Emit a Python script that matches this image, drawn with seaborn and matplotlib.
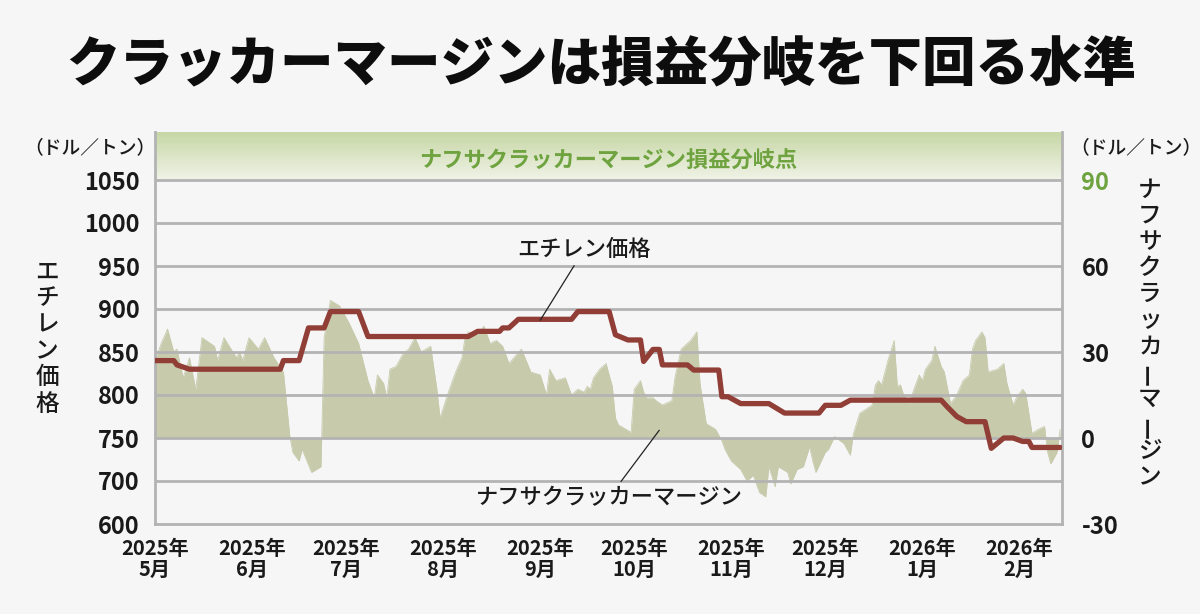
import numpy as np
import pandas as pd
import matplotlib
matplotlib.use("Agg")
import matplotlib.pyplot as plt
import matplotlib.dates as mdates
from matplotlib.colors import LinearSegmentedColormap
import seaborn as sns

# Precio de etileno (dolares/tonelada), vertices de la linea escalonada
etileno_fechas = [
    "2025-05-01", "2025-05-07", "2025-05-08", "2025-05-12", "2025-06-10", "2025-06-11",
    "2025-06-16", "2025-06-19", "2025-06-24", "2025-06-26", "2025-07-05", "2025-07-08",
    "2025-08-09", "2025-08-12", "2025-08-19", "2025-08-20", "2025-08-22", "2025-08-25",
    "2025-09-11", "2025-09-13", "2025-09-23", "2025-09-25", "2025-09-29", "2025-10-03",
    "2025-10-04", "2025-10-07", "2025-10-09", "2025-10-10", "2025-10-18", "2025-10-20",
    "2025-10-28", "2025-10-29", "2025-10-31", "2025-11-04", "2025-11-13", "2025-11-18",
    "2025-11-29", "2025-12-01", "2025-12-06", "2025-12-09", "2026-01-07", "2026-01-09",
    "2026-01-12", "2026-01-15", "2026-01-21", "2026-01-23", "2026-01-27", "2026-01-30",
    "2026-02-02", "2026-02-04", "2026-02-05", "2026-02-14",
]
etileno_precio = [
    840, 840, 835, 830, 830, 840,
    840, 878, 878, 897, 897, 868,
    868, 874, 874, 878, 878, 888,
    888, 897, 897, 870, 864, 864,
    839, 853, 853, 835, 835, 829,
    829, 798, 798, 790, 790, 779,
    779, 788, 788, 794, 794, 786,
    775, 769, 769, 738, 750, 750,
    746, 746, 739, 739,
]

# Margen de craqueo de nafta (dolares/tonelada)
margen_fechas = [
    "2025-05-01", "2025-05-03", "2025-05-05", "2025-05-07", "2025-05-08", "2025-05-10",
    "2025-05-12", "2025-05-14", "2025-05-16", "2025-05-20", "2025-05-21", "2025-05-23",
    "2025-05-27", "2025-05-28", "2025-05-29", "2025-05-31", "2025-06-03", "2025-06-05",
    "2025-06-08", "2025-06-11", "2025-06-13", "2025-06-14", "2025-06-16", "2025-06-17",
    "2025-06-20", "2025-06-23", "2025-06-24", "2025-06-26", "2025-06-29", "2025-07-02",
    "2025-07-05", "2025-07-08", "2025-07-10", "2025-07-11", "2025-07-13", "2025-07-14",
    "2025-07-15", "2025-07-17", "2025-07-19", "2025-07-21", "2025-07-23", "2025-07-25",
    "2025-07-28", "2025-07-30", "2025-07-31", "2025-08-03", "2025-08-05", "2025-08-07",
    "2025-08-08", "2025-08-09", "2025-08-12", "2025-08-14", "2025-08-16", "2025-08-18",
    "2025-08-20", "2025-08-22", "2025-08-26", "2025-08-29", "2025-09-01", "2025-09-03",
    "2025-09-04", "2025-09-06", "2025-09-09", "2025-09-11", "2025-09-13", "2025-09-15",
    "2025-09-16", "2025-09-17", "2025-09-18", "2025-09-20", "2025-09-22", "2025-09-24",
    "2025-09-25", "2025-09-26", "2025-09-30", "2025-10-01", "2025-10-03", "2025-10-04",
    "2025-10-05", "2025-10-07", "2025-10-08", "2025-10-10", "2025-10-13", "2025-10-14",
    "2025-10-16", "2025-10-19", "2025-10-21", "2025-10-22", "2025-10-24", "2025-10-27",
    "2025-10-29", "2025-10-30", "2025-11-01", "2025-11-04", "2025-11-06", "2025-11-08",
    "2025-11-10", "2025-11-12", "2025-11-13", "2025-11-15", "2025-11-16", "2025-11-19",
    "2025-11-20", "2025-11-22", "2025-11-24", "2025-11-26", "2025-11-27", "2025-11-28",
    "2025-12-01", "2025-12-02", "2025-12-04", "2025-12-07", "2025-12-09", "2025-12-10",
    "2025-12-12", "2025-12-16", "2025-12-17", "2025-12-18", "2025-12-19", "2025-12-21",
    "2025-12-23", "2025-12-24", "2025-12-25", "2025-12-26", "2025-12-28", "2025-12-29",
    "2025-12-31", "2026-01-01", "2026-01-02", "2026-01-04", "2026-01-05", "2026-01-07",
    "2026-01-08", "2026-01-10", "2026-01-12", "2026-01-14", "2026-01-16", "2026-01-17",
    "2026-01-18", "2026-01-20", "2026-01-21", "2026-01-22", "2026-01-25", "2026-01-27",
    "2026-01-28", "2026-01-30", "2026-01-31", "2026-02-02", "2026-02-03", "2026-02-05",
    "2026-02-07", "2026-02-09", "2026-02-10", "2026-02-11", "2026-02-13", "2026-02-14",
]
margen_valor = [
    27, 33, 38, 30, 31, 21,
    28, 17, 35, 32, 27, 35,
    28, 30, 27, 35, 31, 35,
    28, 23, 1, -5, -8, -4,
    -12, -10, 35, 48, 46, 40,
    33, 20, 14, 22, 19, 14,
    24, 25, 29, 31, 35, 30,
    32, 17, 7, 17, 23, 28,
    35, 37, 36, 39, 33, 34,
    32, 26, 31, 23, 22, 15,
    24, 20, 21, 15, 17, 16,
    18, 17, 21, 24, 26, 18,
    7, 4.5, 2, 17, 20, 16,
    14, 14, 13, 11.5, 13, 21,
    31, 34, 37, 19, 5, 3,
    -1, -4, -8, -11, -15, -13,
    -19, -20.5, -10, -17, -10, -12,
    -16, -11, -10, -3, -8, -12,
    -5, -4, 0.5, -2, -6, 1.6,
    8.6, 11.5, 18.5, 20, 18.5, 27,
    34, 18, 18.5, 15, 12, 16,
    22, 20, 24, 27, 32, 25,
    23, 12, 15, 20, 22, 31,
    34, 37, 35, 23, 24, 26,
    19, 11.5, 14, 17, 15.6, 1.6,
    3, 4, -5, -9, -5, 3,
]

meses = ["2025-05-01", "2025-06-01", "2025-07-01", "2025-08-01", "2025-09-01",
         "2025-10-01", "2025-11-01", "2025-12-01", "2026-01-01", "2026-02-01"]
meses_etiquetas = ["2025年\n5月", "2025年\n6月", "2025年\n7月", "2025年\n8月", "2025年\n9月",
                   "2025年\n10月", "2025年\n11月", "2025年\n12月", "2026年\n1月", "2026年\n2月"]
ticks_izq = [650, 700, 750, 800, 850, 900, 950, 1000, 1050]
ticks_izq_etiquetas = ["600", "700", "750", "800", "850", "900", "950", "1000", "1050"]
ticks_der = [-30, 0, 30, 60, 90]

# Estilo
sns.set_theme(style="white")
plt.rcParams['font.family'] = ['Noto Sans CJK JP', 'DejaVu Sans']

fondo = "#f6f6f6"
gris = "#b3b3b3"
rojo = "#913e37"
verde_area = "#c7cbac"
verde_texto = "#6fa33f"
negro = "#1a1a1a"

W, H = 1200, 614
fig = plt.figure(figsize=(W / 100, H / 100), dpi=100, facecolor=fondo)

def px(x, y):
    return x / W, 1 - y / H

izq, der, arriba, abajo = 155, 1062, 132, 524
ax = fig.add_axes([izq / W, 1 - abajo / H, (der - izq) / W, (abajo - arriba) / H])
ax2 = ax.twinx()
ax.set_zorder(2)
ax2.set_zorder(1)
ax.patch.set_visible(False)
ax2.patch.set_facecolor(fondo)

y_top = 650 + (abajo - arriba) * 50 / 43
ax.set_ylim(650, y_top)
ax2.set_ylim(-30, (y_top - 750) * 0.3)

x0 = pd.Timestamp("2025-05-01")
x1 = pd.Timestamp("2026-02-14 14:00")
ax.set_xlim(x0, x1)

# Area del margen
df_m = pd.DataFrame({"fecha": pd.to_datetime(margen_fechas), "margen": margen_valor})
ax2.fill_between(df_m["fecha"], df_m["margen"], 0, color=verde_area, lw=0)
sns.lineplot(data=df_m, x="fecha", y="margen", ax=ax2, color=verde_area, lw=0.6)

# Franja del punto de equilibrio
cmap = LinearSegmentedColormap.from_list("franja", ["#f0f3e7", "#c7d7a6"])
grad = np.linspace(0, 1, 100).reshape(-1, 1)
ax.imshow(grad, extent=[mdates.date2num(x0), mdates.date2num(x1), 1050, y_top],
          origin="lower", aspect="auto", cmap=cmap, zorder=0.5)
ax.text(0.5, 0.925, "ナフサクラッカーマージン損益分岐点", transform=ax.transAxes,
        ha="center", va="center", fontsize=16, fontweight="bold", color=verde_texto)

# Lineas de cuadricula
for t in ticks_izq[1:]:
    ax.axhline(t, color=gris, lw=2, zorder=1)

# Linea de etileno
df_e = pd.DataFrame({"fecha": pd.to_datetime(etileno_fechas), "precio": etileno_precio})
sns.lineplot(data=df_e, x="fecha", y="precio", ax=ax, color=rojo, lw=3.8, zorder=3)
ax.set_xlim(x0, x1)

# Ejes
for a in (ax, ax2):
    a.set_xlabel("")
    a.set_ylabel("")
    for s in a.spines.values():
        s.set_visible(False)
for s in ("left", "bottom", "right"):
    ax.spines[s].set_visible(True)
    ax.spines[s].set_color(gris)
    ax.spines[s].set_linewidth(2)

ax.set_xticks(pd.to_datetime(meses))
ax.set_xticklabels(meses_etiquetas, fontsize=14.5, fontweight="bold", color=negro,
                   linespacing=1.0)
ax.tick_params(axis="x", length=6, width=2, color=gris, pad=4, direction="out")

ax.set_yticks(ticks_izq)
ax.set_yticklabels(ticks_izq_etiquetas, fontsize=17, fontweight="bold", color=negro)
ax.tick_params(axis="y", length=0, pad=11, left=True, right=False)

ax2.set_yticks(ticks_der)
ax2.set_yticklabels([str(t) for t in ticks_der], fontsize=17, fontweight="bold", color=negro)
ax2.tick_params(axis="y", length=0, pad=14)
ax2.get_yticklabels()[-1].set_color(verde_texto)

# Anotaciones
ax.annotate("エチレン価格", xy=(pd.Timestamp("2025-09-01"), 887),
            xytext=(pd.Timestamp("2025-09-15"), 969), ha="center", va="center",
            fontsize=16, fontweight="medium", color=negro,
            arrowprops=dict(arrowstyle="-", color="#222222", lw=0.9, shrinkA=1, shrinkB=0))
ax.annotate("ナフサクラッカーマージン", xy=(pd.Timestamp("2025-10-09"), 759),
            xytext=(pd.Timestamp("2025-09-23"), 681), ha="center", va="center",
            fontsize=16, fontweight="medium", color=negro,
            arrowprops=dict(arrowstyle="-", color="#222222", lw=0.9, shrinkA=1, shrinkB=0))

# Textos de la figura
fig.text(*px(601, 66), "クラッカーマージンは損益分岐を下回る水準", ha="center", va="center",
         fontsize=38.5, fontweight=900, color="#0d0d0d")
fig.text(*px(90, 148), "（ドル／トン）", ha="center", va="center", fontsize=13.5,
         fontweight="medium", color=negro)
fig.text(*px(1136, 148), "（ドル／トン）", ha="center", va="center", fontsize=13.5,
         fontweight="medium", color=negro)

def texto_vertical(x, y, texto, paso):
    for i, ch in enumerate(texto):
        rot = 90 if ch == "ー" else 0
        fig.text(*px(x, y + i * paso), ch, ha="center", va="center", fontsize=17,
                 fontweight="medium", color=negro, rotation=rot)

texto_vertical(47, 272, "エチレン価格", 26.5)
texto_vertical(1150, 190, "ナフサクラッカーマージン", 26.2)

fig.savefig("out.png", dpi=100, facecolor=fondo)
